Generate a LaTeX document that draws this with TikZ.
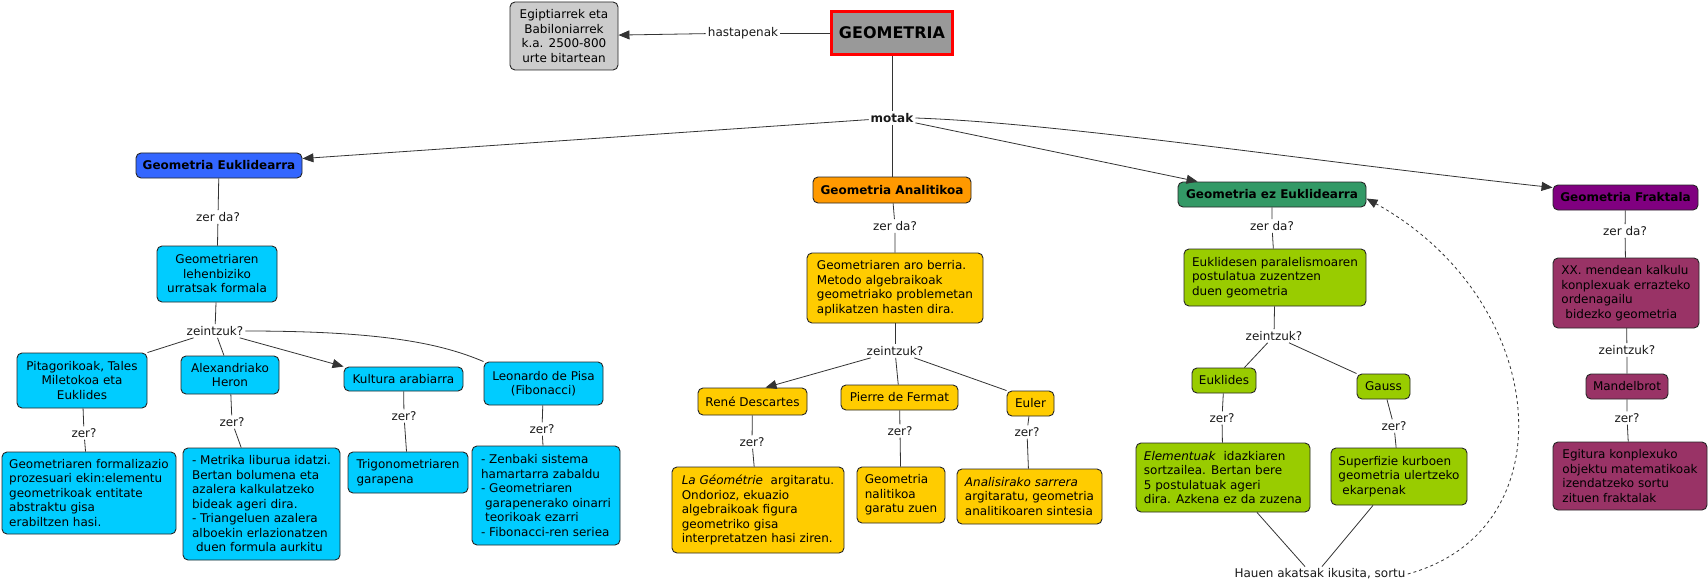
\documentclass[tikz,border=0pt]{standalone}
\usepackage{fontspec}
\setmainfont{DejaVu Sans}
\usetikzlibrary{arrows.meta}
\newcommand\fsz{\fontsize{12}{14.5}\selectfont}
\definecolor{cblue}{HTML}{3366FF}
\definecolor{ccyan}{HTML}{00CCFF}
\definecolor{corange}{HTML}{FF9900}
\definecolor{cyellow}{HTML}{FFCC00}
\definecolor{cgreen}{HTML}{339966}
\definecolor{clime}{HTML}{99CC00}
\definecolor{cpurple}{HTML}{800080}
\definecolor{cmaroon}{HTML}{993366}
\definecolor{cgray}{HTML}{999999}
\definecolor{clgray}{HTML}{CCCCCC}
\tikzset{
  box/.style={draw=black!85, rounded corners=5pt, line width=0.9pt, inner sep=0pt, font=\fsz},
  szc/.style 2 args={minimum width=#1pt, minimum height=#2pt},
  lbl/.style={inner sep=2pt, font=\fsz, text=black!90},
  con/.style={line width=0.8pt, draw=black!80},
  arr/.style={con, -{Triangle[length=11pt,width=9pt]}},
  bf/.style={font=\fsz\bfseries}
}
\begin{document}
\begin{tikzpicture}[x=1pt,y=-1pt]
\useasboundingbox (0,0) rectangle (1708,583);

% top
\node[lbl] (hast) at (743,33) {hastapenak};
\node[draw=red, line width=3pt, fill=cgray, minimum width=121pt, minimum height=43pt, inner sep=0pt, font=\fontsize{16}{19}\selectfont\bfseries] (geom) at (892,33) {GEOMETRIA};
\node[box, fill=clgray, szc={108}{68}, align=center] (egip) at (564,36) {Egiptiarrek eta\\Babiloniarrek\\k.a. 2500-800\\urte bitartean};
\node[lbl, bf] (motak) at (892,118) {motak};

% left branch
\node[box, fill=cblue, szc={166}{25}, bf] (euk) at (219,165.5) {Geometria Euklidearra};
\node[lbl] (lzd) at (218,217) {zer da?};
\node[box, fill=ccyan, szc={120}{56}, align=center] (leh) at (217,274) {Geometriaren\\lehenbiziko\\urratsak formala};
\node[lbl] (lzein) at (215,331) {zeintzuk?};
\node[box, fill=ccyan, szc={130}{55}, align=center] (pit) at (82,380.5) {Pitagorikoak, Tales\\Miletokoa eta\\Euklides};
\node[box, fill=ccyan, szc={98}{38}, align=center] (alex) at (230,375) {Alexandriako\\Heron};
\node[box, fill=ccyan, szc={119}{24}] (kult) at (403.5,379) {Kultura arabiarra};
\node[box, fill=ccyan, szc={119}{43}, align=center] (leo) at (543.5,383.5) {Leonardo de Pisa\\(Fibonacci)};
\node[lbl] (pitz) at (84,433) {zer?};
\node[lbl] (alexz) at (232,422) {zer?};
\node[lbl] (kultz) at (404,416) {zer?};
\node[lbl] (leoz) at (542,429) {zer?};
\node[box, fill=ccyan, szc={174}{82}, align=left] (form) at (89,493) {Geometriaren formalizazio\\prozesuari ekin:elementu\\geometrikoak entitate\\abstraktu gisa\\erabiltzen hasi.};
\node[box, fill=ccyan, szc={157}{112}, align=left] (metr) at (261.5,504) {- Metrika liburua idatzi.\\Bertan bolumena eta\\azalera kalkulatzeko\\bideak ageri dira.\\- Triangeluen azalera\\alboekin erlazionatzen\\\hspace*{4pt}duen formula aurkitu};
\node[box, fill=ccyan, szc={120}{41}, align=left] (trig) at (408,472.5) {Trigonometriaren\\garapena};
\node[box, fill=ccyan, szc={148}{99}, align=left] (zenb) at (546,495.5) {- Zenbaki sistema\\hamartarra zabaldu\\- Geometriaren\\\hspace*{4pt}garapenerako oinarri\\\hspace*{4pt}teorikoak ezarri\\- Fibonacci-ren seriea};

% analitikoa
\node[box, fill=corange, szc={158}{26}, bf] (ana) at (892,190) {Geometria Analitikoa};
\node[lbl] (azd) at (895,226) {zer da?};
\node[box, fill=cyellow, szc={176}{70}, align=left] (aro) at (895,288) {Geometriaren aro berria.\\Metodo algebraikoak\\geometriako problemetan\\aplikatzen hasten dira.};
\node[lbl] (azein) at (895,351) {zeintzuk?};
\node[box, fill=cyellow, szc={109}{27}] (ren) at (752.5,401.5) {René Descartes};
\node[box, fill=cyellow, szc={117}{25}] (fer) at (899.5,397.5) {Pierre de Fermat};
\node[box, fill=cyellow, szc={47}{25}] (eul) at (1030.5,403.5) {Euler};
\node[lbl] (renz) at (752,442) {zer?};
\node[lbl] (ferz) at (900,431) {zer?};
\node[lbl] (eulz) at (1027,432) {zer?};
\node[box, fill=cyellow, szc={172}{86}, align=left] (lag) at (758,510) {\textit{La Géométrie}\ \ argitaratu.\\Ondorioz, ekuazio\\algebraikoak figura\\geometriko gisa\\interpretatzen hasi ziren.};
\node[box, fill=cyellow, szc={88}{56}, align=left] (nal) at (901,495) {Geometria\\nalitikoa\\garatu zuen};
\node[box, fill=cyellow, szc={145}{55}, align=left] (anal) at (1029.5,496.5) {\textit{Analisirako sarrera}\\argitaratu, geometria\\analitikoaren sintesia};

% ez euklidearra
\node[box, fill=cgreen, szc={188}{25}, bf] (ezeuk) at (1272,194.5) {Geometria ez Euklidearra};
\node[lbl] (ezd) at (1272,226) {zer da?};
\node[box, fill=clime, szc={182}{57}, align=left] (eukl) at (1275,277.5) {Euklidesen paralelismoaren\\postulatua zuzentzen\\duen geometria};
\node[lbl] (ezein) at (1274,336) {zeintzuk?};
\node[box, fill=clime, szc={64}{25}] (euklides) at (1224,380.5) {Euklides};
\node[box, fill=clime, szc={53}{25}] (gauss) at (1383.5,386.5) {Gauss};
\node[lbl] (eukz) at (1222,418) {zer?};
\node[lbl] (gaussz) at (1394,426) {zer?};
\node[box, fill=clime, szc={174}{69}, align=left] (elem) at (1223,477.5) {\textit{Elementuak}\ \ idazkiaren\\sortzailea. Bertan bere\\5 postulatuak ageri\\dira. Azkena ez da zuzena};
\node[box, fill=clime, szc={136}{57}, align=left] (sup) at (1399,476.5) {Superfizie kurboen\\geometria ulertzeko\\\hspace*{4pt}ekarpenak};
\node[lbl] (hauen) at (1320,574) {Hauen akatsak ikusita, sortu};

% fraktala
\node[box, fill=cpurple, szc={145}{25}, bf] (frak) at (1625.5,197.5) {Geometria Fraktala};
\node[lbl] (fzd) at (1625,231) {zer da?};
\node[box, fill=cmaroon, szc={146}{70}, align=left] (xx) at (1626,293) {XX. mendean kalkulu\\konplexuak errazteko\\ordenagailu\\\hspace*{4pt}bidezko geometria};
\node[lbl] (fzein) at (1627,350) {zeintzuk?};
\node[box, fill=cmaroon, szc={82}{25}] (mand) at (1627,386.5) {Mandelbrot};
\node[lbl] (fzer) at (1627,418) {zer?};
\node[box, fill=cmaroon, szc={154}{68}, align=left] (egit) at (1630,476) {Egitura konplexuko\\objektu matematikoak\\izendatzeko sortu\\zituen fraktalak};

% connectors
\draw[con] (geom) -- (hast);
\draw[arr] (hast) -- (egip);
\draw[con] (geom) -- (motak);
\draw[arr] (motak) -- ([yshift=-6pt]euk.north east);
\draw[con] (motak) -- (ana);
\draw[arr] (motak) -- ([xshift=20pt]ezeuk.north west);
\draw[arr] (motak.east) .. controls (1060,123) and (1300,160) .. ([yshift=-3pt]frak.north west);

\draw[con] (euk) -- (lzd) -- (leh);
\draw[con] (leh) -- (lzein);
\draw[con] (lzein) -- (pit.north east);
\draw[con] (lzein) -- ([xshift=-6pt]alex.north);
\draw[arr] (lzein) -- (kult.north west);
\draw[con] (lzein.east) .. controls (380,331) and (440,343) .. (leo.north west);
\draw[con] (pit) -- (pitz) -- (form);
\draw[con] (alex) -- (alexz) -- (metr);
\draw[con] (kult) -- (kultz) -- (trig);
\draw[con] (leo) -- (leoz) -- (zenb);

\draw[con] (ana) -- (azd) -- (aro);
\draw[con] (aro) -- (azein);
\draw[arr] (azein) -- ([xshift=13pt]ren.north);
\draw[con] (azein) -- (fer);
\draw[con] (azein) -- (eul.north west);
\draw[con] (ren) -- (renz) -- (lag);
\draw[con] (fer) -- (ferz) -- (nal);
\draw[con] (eul) -- (eulz) -- (anal);

\draw[con] (ezeuk) -- (ezd) -- (eukl);
\draw[con] (eukl) -- (ezein);
\draw[con] (ezein) -- ([xshift=-12pt]euklides.north east);
\draw[con] (ezein) -- (gauss.north west);
\draw[con] (euklides) -- (eukz) -- (elem);
\draw[con] (gauss) -- (gaussz) -- (sup);
\draw[con] ([xshift=34pt]elem.south) -- ([xshift=-15pt]hauen.north);
\draw[con] ([xshift=-26pt]sup.south) -- ([xshift=2pt]hauen.north);
\draw[arr, dash pattern=on 3pt off 3pt] (hauen.east) .. controls (1570,530) and (1550,300) .. ([yshift=-4pt]ezeuk.east);

\draw[con] (frak) -- (fzd) -- (xx);
\draw[con] (xx) -- (fzein) -- (mand);
\draw[con] (mand) -- (fzer) -- (egit);
\end{tikzpicture}
\end{document}
